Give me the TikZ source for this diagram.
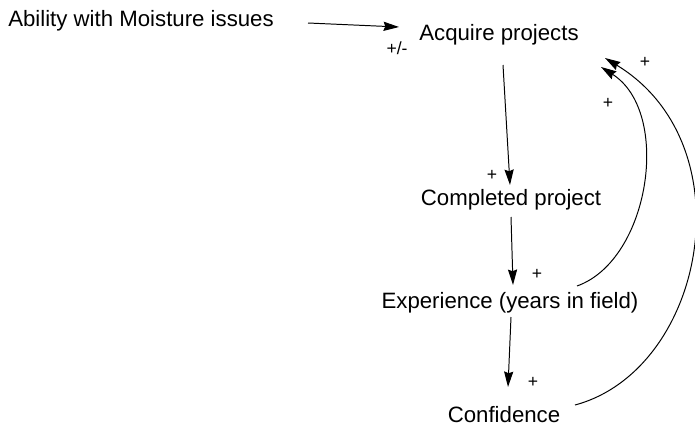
\documentclass[tikz,border=0pt]{standalone}
\usepackage{fontspec}
\setmainfont{Liberation Sans}
\usetikzlibrary{arrows.meta}
\tikzset{>={Stealth[length=11pt,width=6.5pt,inset=1.2pt]}}
\tikzset{factor/.style={anchor=base,inner sep=0pt,font=\fontsize{15.8}{18}\selectfont},
  sign/.style={inner sep=0pt,font=\fontsize{12.5}{14}\selectfont},
  link/.style={->,line width=0.7pt}}

\begin{document}
\begin{tikzpicture}[x=0.025cm,y=-0.025cm]
        \useasboundingbox (0,0) rectangle (695,427);
        \node[factor] (ability) at (141,27) {Ability with Moisture issues};
        \node[factor] (acquire) at (499,40) {Acquire projects};
        \node[factor] (completed) at (511,205) {Completed project};
        \node[factor] (experience) at (510,308) {Experience (years in field)};
        \node[factor] (confidence) at (504,422) {Confidence};
      \draw[link] ([shift={(167,-4)}]ability.base) -- ([shift={(-100,-13)}]acquire.base);
      \draw[link] ([shift={(4,25)}]acquire.base) -- ([shift={(-1,-20)}]completed.base);
      \draw[link] ([shift={(0,12)}]completed.base) -- ([shift={(3,-23)}]experience.base);
      \draw[link] ([shift={(1,9)}]experience.base) -- ([shift={(4,-35)}]confidence.base);
      % feedback loops
      \draw[link] ([shift={(67,-22)}]experience.base) .. controls (650,260) and (672,112) .. ([shift={(102,27)}]acquire.base);
      \draw[link] ([shift={(71,-17)}]confidence.base) .. controls (705,370) and (748,145) .. ([shift={(106,18)}]acquire.base);
      \node[sign] (pm) at (397,48) {+/-};
      \node[sign] (p1) at (492,175) {+};
      \node[sign] (p2) at (537,274) {+};
      \node[sign] (p3) at (533,382) {+};
      \node[sign] (p4) at (608,103) {+};
      \node[sign] (p5) at (645,62) {+};
    \end{tikzpicture}
\end{document}
